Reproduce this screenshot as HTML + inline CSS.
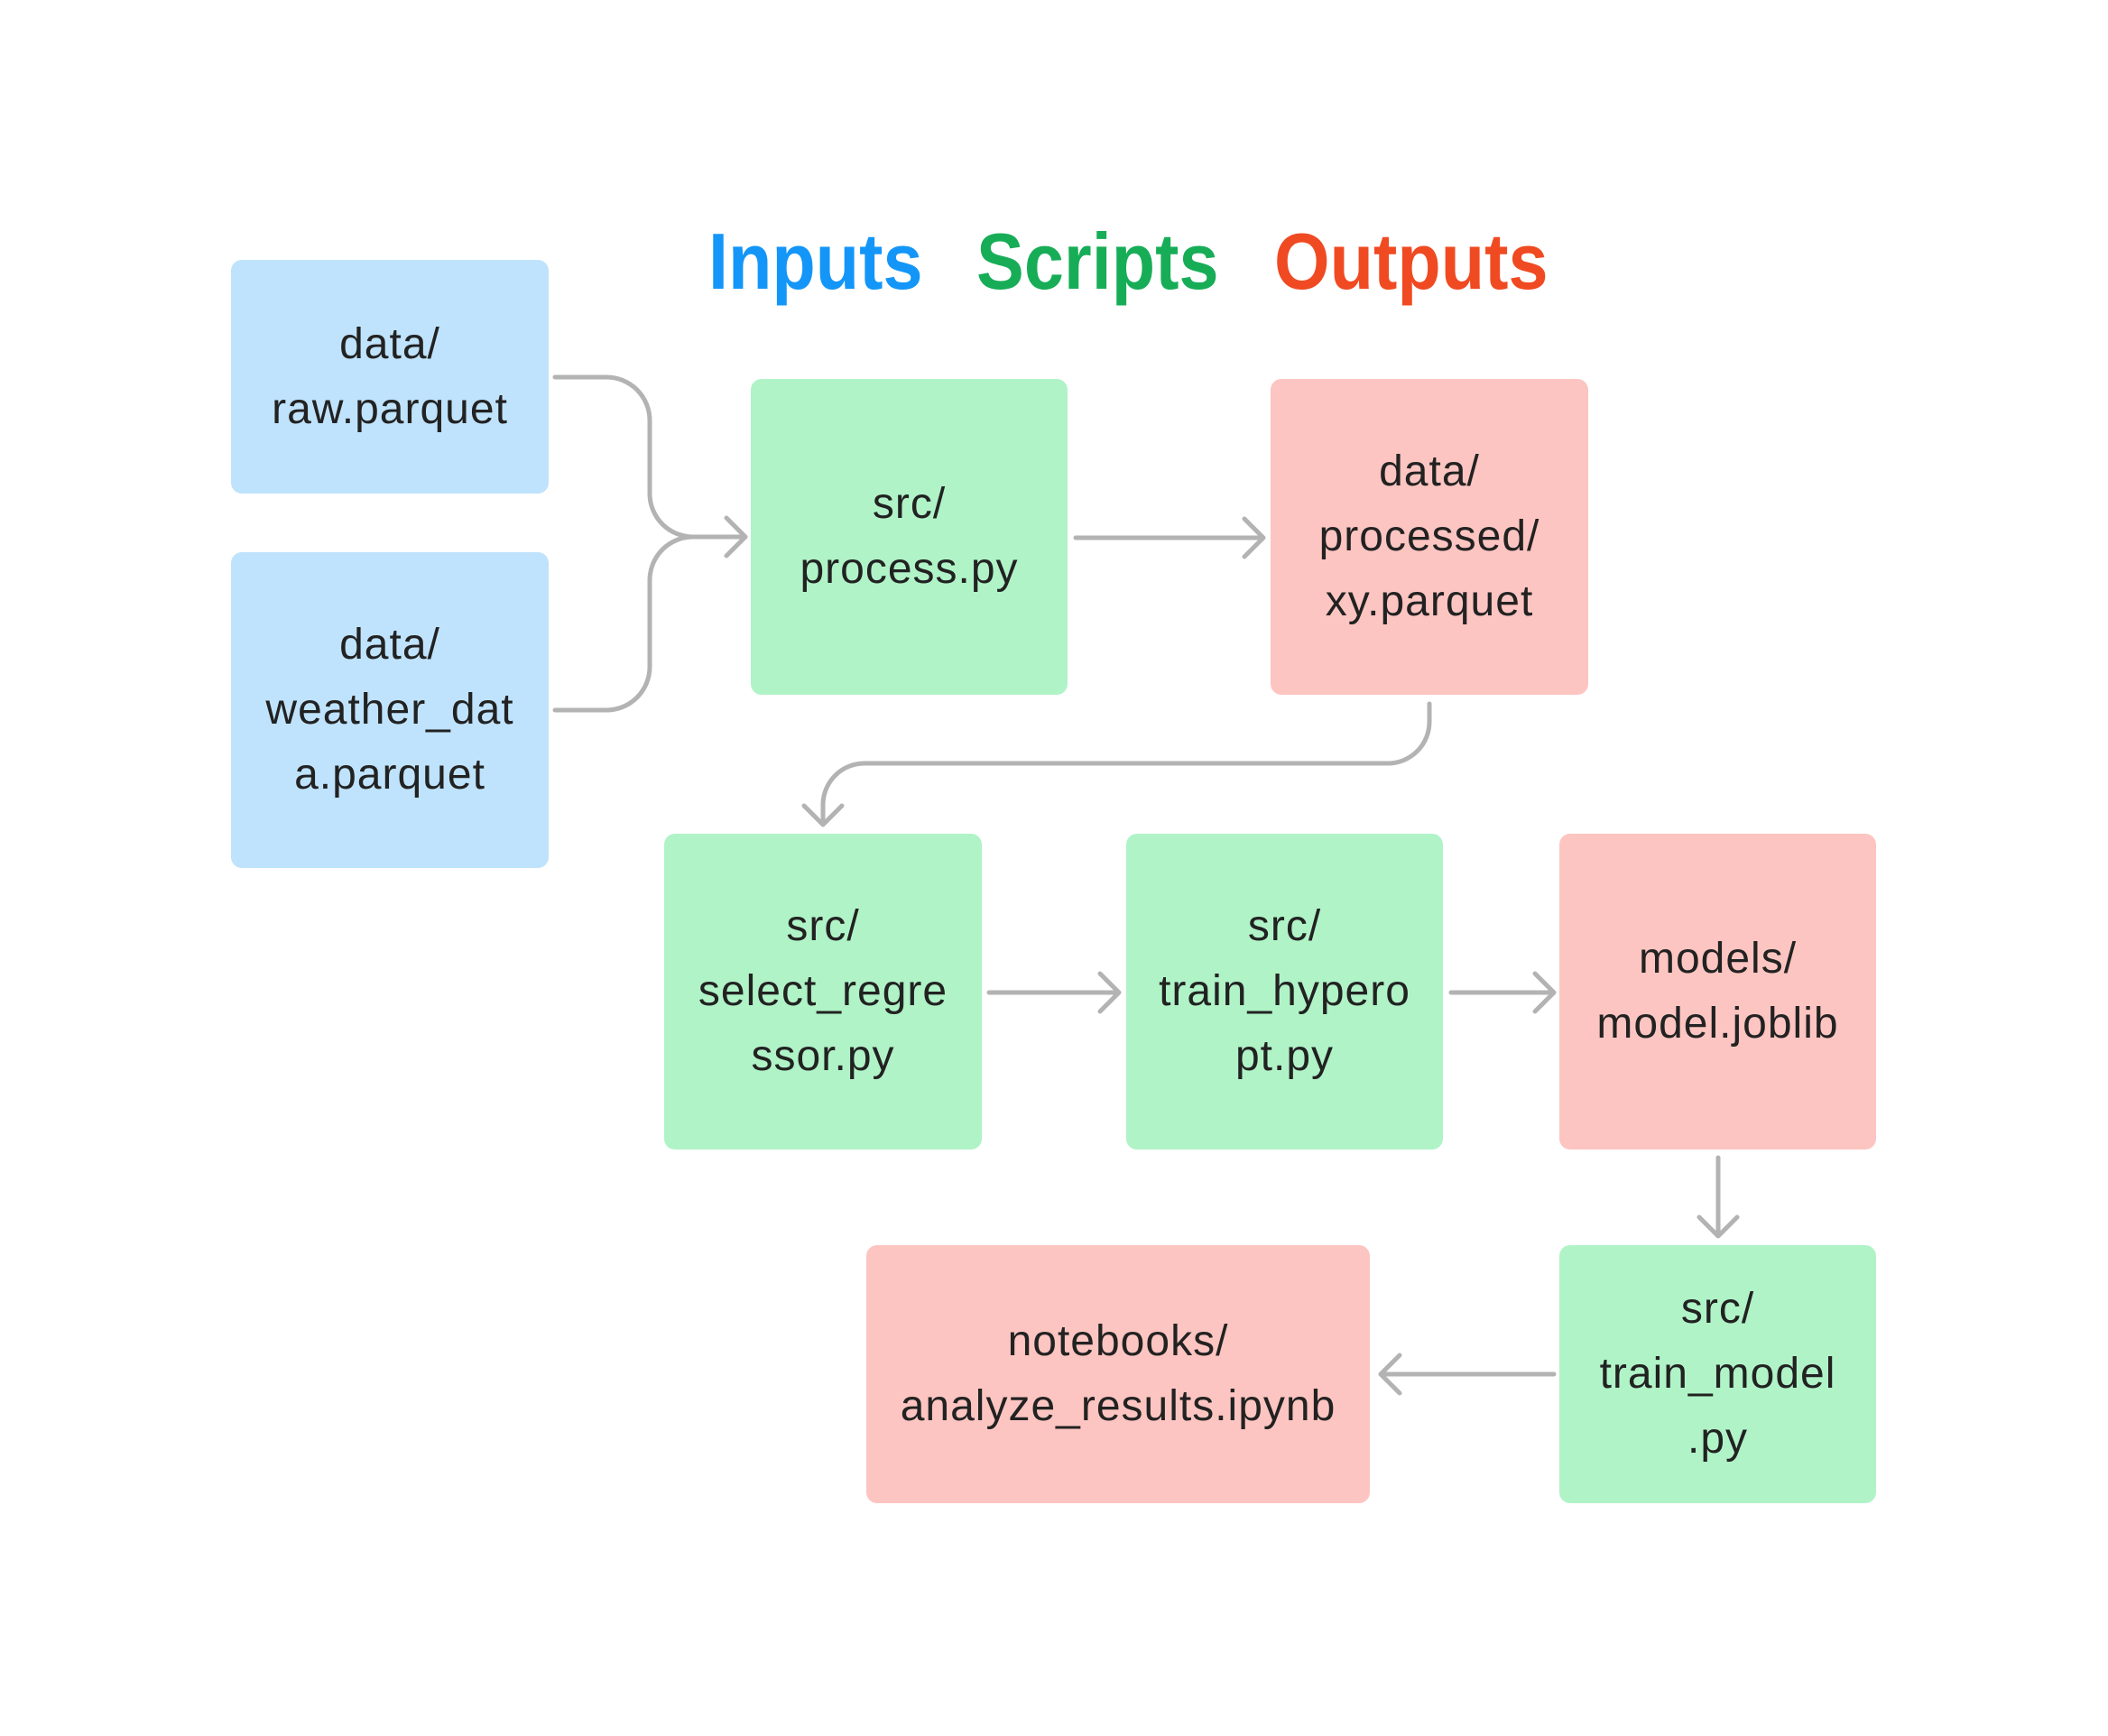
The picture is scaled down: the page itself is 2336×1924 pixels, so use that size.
<!DOCTYPE html>
<html><head><meta charset="utf-8"><style>
html,body{margin:0;padding:0;background:#fff;}
body{width:2336px;height:1924px;position:relative;overflow:hidden;font-family:"Liberation Sans",sans-serif;}
.b{position:absolute;border-radius:12px;display:flex;align-items:center;justify-content:center;text-align:center;font-size:48px;letter-spacing:1px;line-height:72px;color:#222;}
.blue{background:#bfe3fc}.green{background:#b0f3c7}.red{background:#fdc5c1}
.t{position:absolute;top:240px;font-size:88px;font-weight:bold;line-height:100px;transform:scaleX(0.9);transform-origin:left top;}
svg{position:absolute;left:0;top:0}
</style></head><body>
<div class="t" style="left:785px;color:#1396f8">Inputs</div>
<div class="t" style="left:1082px;color:#17ad57">Scripts</div>
<div class="t" style="left:1412px;color:#f04a22">Outputs</div>

<div class="b blue" style="left:256px;top:288px;width:352px;height:259px">data/<br>raw.parquet</div>
<div class="b blue" style="left:256px;top:612px;width:352px;height:350px">data/<br>weather_dat<br>a.parquet</div>
<div class="b green" style="left:832px;top:420px;width:351px;height:350px">src/<br>process.py</div>
<div class="b red" style="left:1408px;top:420px;width:352px;height:350px">data/<br>processed/<br>xy.parquet</div>
<div class="b green" style="left:736px;top:924px;width:352px;height:350px">src/<br>select_regre<br>ssor.py</div>
<div class="b green" style="left:1248px;top:924px;width:351px;height:350px">src/<br>train_hypero<br>pt.py</div>
<div class="b red" style="left:1728px;top:924px;width:351px;height:350px">models/<br>model.joblib</div>
<div class="b green" style="left:1728px;top:1380px;width:351px;height:286px">src/<br>train_model<br>.py</div>
<div class="b red" style="left:960px;top:1380px;width:558px;height:286px">notebooks/<br>analyze_results.ipynb</div>

<svg width="2336" height="1924" fill="none" stroke="#b3b3b3" stroke-width="5" stroke-linecap="round" stroke-linejoin="round">
<path d="M615 418 H672 A48 48 0 0 1 720 466 V548 A48 48 0 0 0 768 595 H826"/>
<path d="M615 787 H672 A48 48 0 0 0 720 739 V643 A48 48 0 0 1 768 595"/>
<path d="M805 574 L826 595 L805 616"/>
<path d="M1192 596 H1400 M1379 575 L1400 596 L1379 617"/>
<path d="M1584 780 V800 A46 46 0 0 1 1538 846 H958 A46 46 0 0 0 912 892 V914 M891 893 L912 914 L933 893"/>
<path d="M1096 1100 H1240 M1219 1079 L1240 1100 L1219 1121"/>
<path d="M1608 1100 H1722 M1701 1079 L1722 1100 L1701 1121"/>
<path d="M1904 1283 V1370 M1883 1349 L1904 1370 L1925 1349"/>
<path d="M1722 1523 H1530 M1551 1502 L1530 1523 L1551 1544"/>
</svg>
</body></html>
